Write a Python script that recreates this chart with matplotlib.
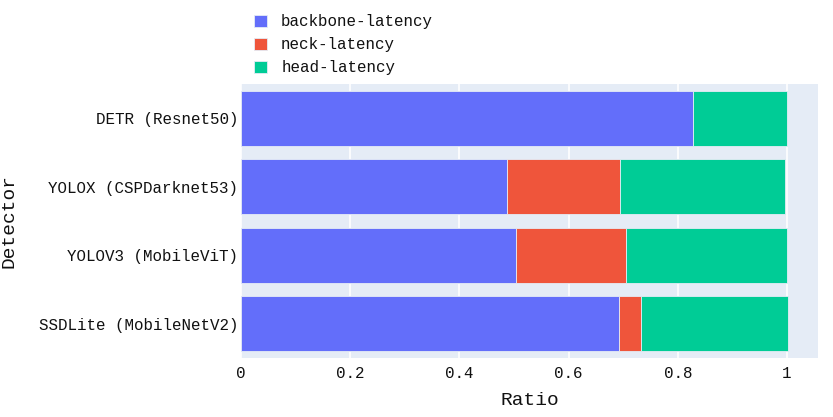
import matplotlib
matplotlib.use("Agg")
import matplotlib.pyplot as plt
import numpy as np

detectors = ["SSDLite (MobileNetV2)", "YOLOV3 (MobileViT)", "YOLOX (CSPDarknet53)", "DETR (Resnet50)"]
backbone = [0.692, 0.504, 0.487, 0.828]
neck = [0.041, 0.201, 0.207, 0.0]
head = [0.269, 0.295, 0.302, 0.172]
series_names = ["backbone-latency", "neck-latency", "head-latency"]
colors = ["#636EFA", "#EF553B", "#00CC96"]
xticks = [0, 0.2, 0.4, 0.6, 0.8, 1]
xticklabels = ["0", "0.2", "0.4", "0.6", "0.8", "1"]

plt.rcParams['font.family'] = ['Liberation Mono', 'DejaVu Sans Mono']
TXT = "#111111"

fig = plt.figure(figsize=(8.33, 4.17), dpi=100)
ax = fig.add_axes([241/833, (417-358)/417, (818-241)/833, (358-84)/417])
ax.set_facecolor("#E5ECF6")

y = np.arange(len(detectors))
left = np.zeros(len(detectors))
for name, vals, c in zip(series_names, [backbone, neck, head], colors):
    vals = np.array(vals)
    ax.barh(y, vals, left=left, height=0.8, color=c, label=name,
            edgecolor="#E5ECF6", linewidth=0.6, zorder=3)
    left = left + vals

ax.set_xlim(0, 1.0568)
ax.set_ylim(-0.5, len(detectors) - 0.5)
ax.set_yticks(y)
ax.set_yticklabels(detectors, fontsize=11.4)
ax.set_xticks(xticks)
ax.set_xticklabels(xticklabels, fontsize=11.4)
ax.tick_params(axis='y', length=0, pad=2, colors=TXT)
ax.tick_params(axis='x', length=0, pad=6, colors=TXT)
ax.xaxis.grid(True, color="white", linewidth=1.2, zorder=0)
ax.set_axisbelow(True)
for s in ax.spines.values():
    s.set_visible(False)

ax.set_xlabel("Ratio", fontsize=14, color=TXT, labelpad=8)
ax.set_ylabel("Detector", fontsize=14, color=TXT, labelpad=15)

handles, labels = ax.get_legend_handles_labels()
leg = fig.legend(handles, labels, loc="upper left", bbox_to_anchor=(240/833, 1 - 0/417),
                 frameon=False, fontsize=11.4, handlelength=0.8, handleheight=0.8,
                 labelspacing=0.5, handletextpad=0.9)
for t in leg.get_texts():
    t.set_color(TXT)

fig.savefig("out.png", dpi=100)
